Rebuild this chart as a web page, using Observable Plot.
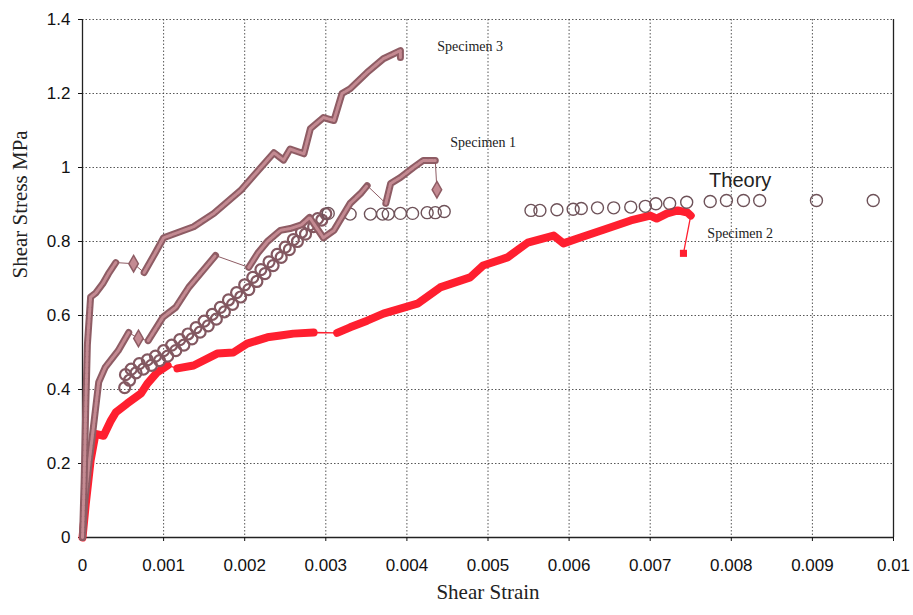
<!DOCTYPE html>
<html><head><meta charset="utf-8">
<script src="https://cdn.jsdelivr.net/npm/d3@7"></script>
<script src="https://cdn.jsdelivr.net/npm/@observablehq/plot@0.6"></script>
<style>body{margin:0;background:#fff} #chart svg{display:block}</style>
</head><body><div id="chart"></div>
<script>
// Tick values and labels
const xTicks = [0,0.001,0.002,0.003,0.004,0.005,0.006,0.007,0.008,0.009,0.01];
const xTickLabels = ["0","0.001","0.002","0.003","0.004","0.005","0.006","0.007","0.008","0.009","0.01"];
const yTicks = [0,0.2,0.4,0.6,0.8,1,1.2,1.4];
const yTickLabels = ["0","0.2","0.4","0.6","0.8","1","1.2","1.4"];

// [strain, stress, run]  run>0: dense marker run, 0: isolated marker
const specimen3 = [
  [0,0,1],[0.00002,0.15,1],[0.00004,0.35,1],[0.00006,0.52,1],[0.0001,0.65,1],[0.00016,0.66,1],
  [0.00025,0.686,1],[0.00032,0.713,1],[0.00041,0.743,1],
  [0.00063,0.74,0],
  [0.00076,0.716,2],[0.0009,0.77,2],[0.001,0.81,2],[0.00137,0.84,2],[0.00162,0.876,2],[0.00195,0.938,2],
  [0.00236,1.04,2],[0.00248,1.02,2],[0.00256,1.05,2],[0.00273,1.037,2],[0.00281,1.105,2],[0.00297,1.135,2],
  [0.0031,1.127,2],[0.0032,1.2,2],[0.0033,1.213,2],[0.00351,1.257,2],[0.00371,1.294,2],[0.00392,1.316,2],[0.00392,1.297,2]
];
const specimen1 = [
  [0,0,1],[0.00003,0.1,1],[0.00008,0.2,1],[0.00013,0.29,1],[0.0002,0.42,1],[0.00028,0.46,1],
  [0.00044,0.505,1],[0.00057,0.554,1],
  [0.00069,0.538,0],
  [0.00081,0.532,2],[0.00099,0.595,2],[0.00115,0.622,2],[0.00131,0.676,2],[0.00148,0.72,2],[0.00164,0.762,2],
  [0.00205,0.73,3],[0.00216,0.768,3],[0.00228,0.8,3],[0.00244,0.83,3],[0.00256,0.835,3],[0.0027,0.845,3],
  [0.0028,0.865,3],[0.00297,0.81,3],[0.0031,0.83,3],[0.0033,0.903,3],[0.00343,0.93,3],[0.00351,0.951,3],
  [0.00374,0.903,4],[0.0038,0.957,4],[0.00392,0.973,4],[0.00408,1.0,4],[0.0042,1.019,4],[0.00435,1.019,4],
  [0.00437,0.94,0]
];
const specimen2 = [
  [0,0,1],[0.00004,0.09,1],[0.0001,0.208,1],[0.00016,0.28,1],[0.00026,0.275,1],[0.00035,0.316,1],
  [0.00041,0.338,1],[0.00055,0.362,1],[0.00072,0.389,1],[0.0008,0.416,1],[0.00092,0.446,1],[0.00105,0.465,1],
  [0.00117,0.457,2],[0.00137,0.465,2],[0.00166,0.497,2],[0.00186,0.5,2],[0.00203,0.524,2],[0.00228,0.541,2],
  [0.00244,0.546,2],[0.0026,0.551,2],[0.00285,0.554,2],
  [0.00314,0.553,3],[0.0033,0.568,3],[0.00351,0.586,3],[0.00371,0.605,3],[0.00413,0.632,3],[0.00441,0.676,3],
  [0.00478,0.703,3],[0.00494,0.735,3],[0.00524,0.757,3],[0.00549,0.797,3],[0.00581,0.816,3],[0.00593,0.795,3],
  [0.00614,0.811,3],[0.00647,0.835,3],[0.00676,0.857,3],[0.007,0.87,3],[0.00708,0.862,3],[0.00721,0.876,3],
  [0.00734,0.884,3],[0.00746,0.878,3],[0.0075,0.87,3],
  [0.00741,0.768,0]
];
// theory: loading branch (dense double chain) then plateau
const theoryRise = [
  [0.00052,0.405],[0.00053,0.44],[0.00058,0.425],[0.0006,0.455],[0.00066,0.445],[0.0007,0.47],[0.00075,0.455],
  [0.0008,0.48],[0.00085,0.465],[0.0009,0.49],[0.00095,0.478],[0.001,0.505],[0.00105,0.49],[0.0011,0.52],
  [0.00115,0.505],[0.0012,0.535],[0.00125,0.52],[0.0013,0.55],[0.00135,0.537],[0.0014,0.567],[0.00145,0.555],
  [0.0015,0.585],[0.00155,0.572],[0.0016,0.603],[0.00165,0.59],[0.0017,0.622],[0.00175,0.61],[0.0018,0.642],
  [0.00185,0.63],[0.0019,0.662],[0.00195,0.65],[0.002,0.683],[0.00205,0.67],[0.0021,0.703],[0.00215,0.692],
  [0.0022,0.724],[0.00225,0.713],[0.0023,0.745],[0.00235,0.735],[0.0024,0.765],[0.00245,0.757],[0.0025,0.785],
  [0.00255,0.778],[0.0026,0.805],[0.00265,0.8],[0.0027,0.825],[0.00275,0.82],[0.0028,0.845],[0.00285,0.84],
  [0.0029,0.862],[0.00295,0.858],[0.003,0.875]
];
const theoryPlateau = [
  [0.00303,0.876],[0.0033,0.874],[0.00355,0.874],[0.0037,0.874],[0.00377,0.874],[0.00392,0.876],[0.00407,0.876],
  [0.00425,0.878],[0.00435,0.878],[0.00446,0.881],
  [0.00553,0.884],[0.00564,0.884],[0.00585,0.886],[0.00605,0.887],[0.00615,0.889],[0.00635,0.891],[0.00655,0.891],
  [0.00676,0.893],[0.00694,0.895],[0.00707,0.902],[0.00724,0.903],[0.00745,0.906],[0.00774,0.908],[0.00794,0.911],
  [0.00815,0.911],[0.00835,0.911],[0.00905,0.911],[0.00975,0.911]
];

const X = d => d[0], Y = d => d[1];
const mauveDark = "#8e5c64", mauveLight = "#c48a92", red = "#ff1f2f";
const runs = s => s.filter(d => d[2] > 0);
const singles = s => s.filter(d => d[2] === 0);
const grid = {stroke:"#3a3a3a", strokeOpacity:0.85, strokeDasharray:"1.5,2", strokeWidth:1};
const serif = "Liberation Serif, Times New Roman, serif";

function specimenMarks(s) {
  return [
    Plot.line(s, {x:X, y:Y, stroke:mauveDark, strokeWidth:1}),
    Plot.line(runs(s), {x:X, y:Y, z:d=>d[2], stroke:mauveDark, strokeWidth:7, strokeLinejoin:"round", strokeLinecap:"round"}),
    Plot.line(runs(s), {x:X, y:Y, z:d=>d[2], stroke:mauveLight, strokeWidth:3, strokeLinejoin:"round", strokeDasharray:"4,1.5"}),
    Plot.dot(singles(s), {x:X, y:Y, symbol:"diamond", r:5, fill:mauveLight, stroke:mauveDark, strokeWidth:1.5})
  ];
}

const chart = Plot.plot({
  width: 913, height: 615,
  marginTop: 19, marginRight: 20, marginBottom: 78, marginLeft: 82,
  style: {background:"#fff", fontFamily:"Liberation Sans, Arial, sans-serif", fontSize:"17px", color:"#111"},
  x: {domain:[0,0.01]},
  y: {domain:[0,1.4]},
  marks: [
    Plot.gridX(xTicks, grid),
    Plot.gridY(yTicks, grid),
    Plot.ruleX([0], {stroke:"#222", strokeWidth:1.3}),
    Plot.ruleX([0.01], {stroke:"#222", strokeWidth:1.3}),
    Plot.ruleY([0], {stroke:"#222", strokeWidth:1.5}),
    Plot.axisX(xTicks, {tickFormat: d => xTickLabels[xTicks.indexOf(d)], tickSize:4, tickPadding:17, fontSize:17, label:null}),
    Plot.axisY(yTicks, {tickFormat: d => yTickLabels[yTicks.indexOf(d)], tickSize:4, tickPadding:8, fontSize:17, label:null}),
    // Specimen 2 (red)
    Plot.line(specimen2, {x:X, y:Y, stroke:red, strokeWidth:1.3}),
    Plot.line(runs(specimen2), {x:X, y:Y, z:d=>d[2], stroke:red, strokeWidth:8, strokeLinejoin:"round"}),
    Plot.dot(singles(specimen2), {x:X, y:Y, symbol:"square", r:4, fill:red}),
    // Theory
    Plot.dot(theoryRise, {x:X, y:Y, r:5.5, stroke:"#835861", strokeWidth:2.2, fill:"none"}),
    Plot.dot(theoryPlateau, {x:X, y:Y, r:6, stroke:"#6e5259", strokeWidth:1.4, fill:"none"}),
    ...specimenMarks(specimen1),
    ...specimenMarks(specimen3),
    // annotations
    Plot.text(["Specimen 3"], {x:0.00478, y:1.327, fontFamily:serif, fontSize:14, fill:"#222"}),
    Plot.text(["Specimen 1"], {x:0.00494, y:1.068, fontFamily:serif, fontSize:14, fill:"#222"}),
    Plot.text(["Specimen 2"], {x:0.00811, y:0.822, fontFamily:serif, fontSize:14, fill:"#222"}),
    Plot.text(["Theory"], {x:0.00811, y:0.965, fontFamily:"Liberation Sans, Arial, sans-serif", fontSize:20, fill:"#222"}),
    // axis titles
    Plot.text(["Shear Stress MPa"], {frameAnchor:"left", rotate:-90, dx:-62, fontFamily:serif, fontSize:21, fill:"#222"}),
    Plot.text(["Shear Strain"], {frameAnchor:"bottom", dy:61, fontFamily:serif, fontSize:21, fill:"#222"})
  ]
});
document.getElementById("chart").appendChild(chart);
</script>
</body></html>
